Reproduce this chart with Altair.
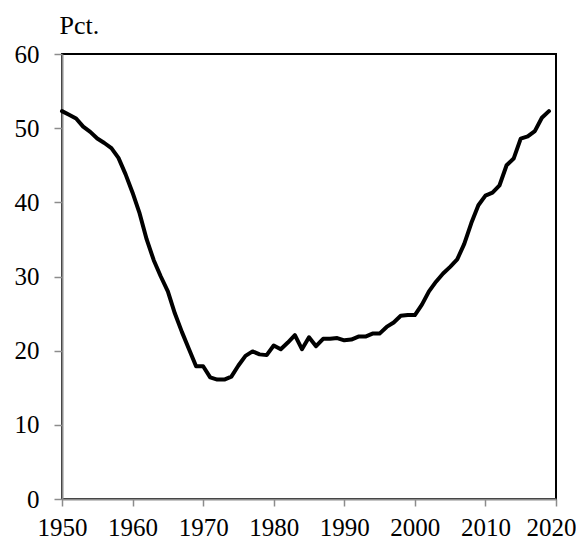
import altair as alt
import pandas as pd

years = list(range(1950, 2020))
pct = [52.3, 51.8, 51.3, 50.2, 49.5, 48.6, 48.0, 47.3, 46.0, 43.8,
       41.3, 38.5, 35.0, 32.2, 30.0, 28.0, 25.0, 22.5, 20.2, 17.9,
       17.9, 16.4, 16.1, 16.1, 16.5, 18.0, 19.3, 19.9, 19.5, 19.4,
       20.7, 20.2, 21.1, 22.1, 20.2, 21.8, 20.6, 21.6, 21.6, 21.7,
       21.4, 21.5, 21.9, 21.9, 22.3, 22.3, 23.2, 23.8, 24.7, 24.8,
       24.8, 26.2, 28.0, 29.3, 30.4, 31.3, 32.3, 34.4, 37.2, 39.6,
       40.9, 41.3, 42.3, 45.0, 45.9, 48.6, 48.9, 49.6, 51.4, 52.3]
x_ticks = [1950, 1960, 1970, 1980, 1990, 2000, 2010, 2020]
y_ticks = [0, 10, 20, 30, 40, 50, 60]

df = pd.DataFrame({"year": years, "pct": pct})

FONT = "Liberation Serif"

chart = alt.Chart(df).mark_line(
    color="black", strokeWidth=4, strokeJoin="round", strokeCap="round"
).encode(
    x=alt.X("year:Q",
            scale=alt.Scale(domain=[1950, 2020], nice=False, zero=False),
            axis=alt.Axis(values=x_ticks, format="d", title=None, grid=False,
                          domainColor="#8c8c8c", domainWidth=2,
                          tickColor="#8c8c8c", tickWidth=1.5, tickSize=7,
                          labelPadding=9, labelFontSize=25, labelFont=FONT,
                          labelColor="black", labelFlush=False,
                          labelOffset={"condition": {"test": "datum.value == 2020", "value": -5},
                                       "value": 0})),
    y=alt.Y("pct:Q",
            scale=alt.Scale(domain=[0, 60], nice=False),
            axis=alt.Axis(values=y_ticks, title="Pct.", grid=False,
                          domainColor="#8c8c8c", domainWidth=2,
                          tickColor="#8c8c8c", tickWidth=1.5, tickSize=8,
                          labelPadding=15, labelFontSize=25, labelFont=FONT,
                          labelColor="black",
                          titleAngle=0, titleAlign="left", titleBaseline="alphabetic",
                          titleX=-3, titleY=-21, titleFont=FONT, titleFontSize=26,
                          titleFontWeight="normal", titleColor="black")),
).properties(
    width=494, height=445,
    autosize=alt.AutoSizeParams(type="none"),
    padding={"left": 54, "top": 46, "right": 20, "bottom": 40},
).configure_view(
    stroke="black", strokeWidth=2
)

chart.save("out.html", embed_options={"renderer": "svg", "actions": False})
